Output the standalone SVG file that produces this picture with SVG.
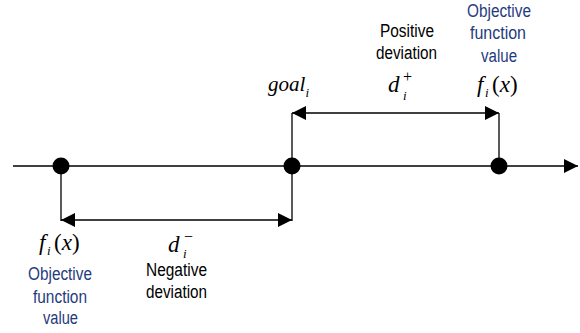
<svg xmlns="http://www.w3.org/2000/svg" width="580" height="333" viewBox="0 0 580 333">
<style>
.ln{stroke:#000;stroke-width:1.3;fill:none}
.m{font-family:"Liberation Serif",serif;font-size:23px;fill:#000}
.g{font-size:21px}
.it{font-style:italic}
.sb{font-size:13px}
.sp{font-size:16px}
.lb{font-family:"Liberation Sans",Arial,sans-serif;font-size:18px;fill:#000;text-anchor:middle}
.bl{fill:#1F3B7E}
</style>
<defs>
<marker id="ah" viewBox="0 0 14 14" refX="14" refY="7" markerWidth="14" markerHeight="14" markerUnits="userSpaceOnUse" orient="auto-start-reverse">
<path d="M0,0 L14,7 L0,14 Z" fill="#000"/>
</marker>
</defs>
<g id="connectors">
<line class="ln" x1="13" y1="166" x2="578" y2="166" marker-end="url(#ah)"/>
<line class="ln" x1="61" y1="166" x2="61" y2="221"/>
<line class="ln" x1="292" y1="113" x2="292" y2="221"/>
<line class="ln" x1="499" y1="113" x2="499" y2="166"/>
<line class="ln" x1="61" y1="220" x2="292" y2="220" marker-start="url(#ah)" marker-end="url(#ah)"/>
<line class="ln" x1="292" y1="113" x2="499" y2="113" marker-start="url(#ah)" marker-end="url(#ah)"/>
</g>
<g id="node-left">
<circle cx="61" cy="166" r="8.5" fill="#000"/>
<text class="m"><tspan class="it" x="39" y="250">f</tspan><tspan class="it sb" x="47" y="255">i</tspan><tspan x="54" y="250">(</tspan><tspan class="it">x</tspan>)</text>
<text class="lb bl" x="60" y="280" textLength="64" lengthAdjust="spacingAndGlyphs">Objective</text>
<text class="lb bl" x="60" y="303" textLength="54" lengthAdjust="spacingAndGlyphs">function</text>
<text class="lb bl" x="60.5" y="324" textLength="35" lengthAdjust="spacingAndGlyphs">value</text>
</g>
<g id="node-goal">
<circle cx="292" cy="166" r="8.5" fill="#000"/>
<text class="m g it"><tspan x="268" y="91">goal</tspan><tspan class="sb" x="305.5" y="97">i</tspan></text>
</g>
<g id="node-right">
<circle cx="499" cy="166" r="8.5" fill="#000"/>
<text class="m"><tspan class="it" x="477" y="92">f</tspan><tspan class="it sb" x="485" y="97">i</tspan><tspan x="492" y="92">(</tspan><tspan class="it">x</tspan>)</text>
<text class="lb bl" x="499" y="17" textLength="64" lengthAdjust="spacingAndGlyphs">Objective</text>
<text class="lb bl" x="498" y="39" textLength="56" lengthAdjust="spacingAndGlyphs">function</text>
<text class="lb bl" x="499" y="62" textLength="36" lengthAdjust="spacingAndGlyphs">value</text>
</g>
<g id="label-neg">
<text class="m"><tspan class="it" x="168" y="252">d</tspan><tspan class="it sb" x="183" y="258">i</tspan><tspan class="sp" x="184" y="242">−</tspan></text>
<text class="lb" x="176.5" y="276" textLength="61" lengthAdjust="spacingAndGlyphs">Negative</text>
<text class="lb" x="176.5" y="298" textLength="61" lengthAdjust="spacingAndGlyphs">deviation</text>
</g>
<g id="label-pos">
<text class="m"><tspan class="it" x="388" y="92">d</tspan><tspan class="it sb" x="403" y="100">i</tspan><tspan class="sp" x="403" y="82">+</tspan></text>
<text class="lb" x="407" y="37" textLength="54" lengthAdjust="spacingAndGlyphs">Positive</text>
<text class="lb" x="406.5" y="59" textLength="61" lengthAdjust="spacingAndGlyphs">deviation</text>
</g>
</svg>
